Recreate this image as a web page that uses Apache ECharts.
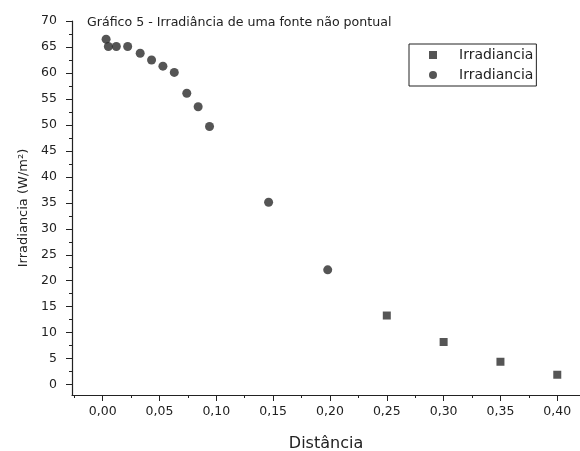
<!DOCTYPE html>
<html>
<head>
<meta charset="utf-8">
<script src="https://cdn.jsdelivr.net/npm/echarts@6/dist/echarts.min.js"></script>
<style>
  html, body { margin: 0; padding: 0; background: #fff; }
  #chart { width: 580px; height: 451px; }
</style>
</head>
<body>
<div id="chart"></div>
<script>
// dados
var circleX = [0.003, 0.005, 0.012, 0.022, 0.033, 0.043, 0.053, 0.063, 0.074, 0.084, 0.094, 0.146, 0.198];
var circleY = [66.5, 65.1, 65.1, 65.1, 63.8, 62.5, 61.3, 60.1, 56.1, 53.5, 49.7, 35.1, 22.1];
var squareX = [0.25, 0.30, 0.35, 0.40];
var squareY = [13.3, 8.2, 4.4, 1.9];

var xMajorTicks = [0, 0.05, 0.10, 0.15, 0.20, 0.25, 0.30, 0.35, 0.40];
var xMinorTicks = [-0.025, 0.025, 0.075, 0.125, 0.175, 0.225, 0.275, 0.325, 0.375];
var yMajorTicks = [0, 5, 10, 15, 20, 25, 30, 35, 40, 45, 50, 55, 60, 65, 70];
var yMinorTicks = [2.5, 7.5, 12.5, 17.5, 22.5, 27.5, 32.5, 37.5, 42.5, 47.5, 52.5, 57.5, 62.5, 67.5];

function renderGrafico5() {
    var dom = document.getElementById('chart');
    var myChart = echarts.init(dom);
    var option;

    var font = 'DejaVu Sans, Liberation Sans, sans-serif';
    var ink = '#222';
    var pts = function (xs, ys) {
        return xs.map(function (x, i) { return [x, ys[i]]; });
    };
    var xRange = { min: -0.027, max: 0.42 };
    var yRange = { min: -2, max: 70 };

    option = {
        backgroundColor: '#FFFFFF',
        animation: false,
        title: {
            text: 'Gráfico 5 - Irradiância de uma fonte não pontual',
            left: 82,
            top: 11,
            textStyle: { fontFamily: font, fontSize: 12.6, fontWeight: 'normal', color: ink }
        },
        legend: {
            orient: 'vertical',
            left: 409,
            top: 44,
            padding: [3, 3, 3, 20],
            itemWidth: 8,
            itemHeight: 8,
            itemGap: 4,
            borderColor: '#222',
            borderWidth: 1,
            data: [
                { name: 'Irradiancia', icon: 'rect' },
                { name: 'Irradiancia\u200B', icon: 'circle' }
            ],
            textStyle: { fontFamily: font, fontSize: 14, color: ink, lineHeight: 16, padding: [0, 0, 0, 17] }
        },
        grid: { left: 72, right: 0, top: 21, bottom: 56, containLabel: false, outerBoundsMode: 'none' },
        xAxis: [{
            type: 'value',
            min: xRange.min,
            max: xRange.max,
            name: 'Distância',
            nameLocation: 'middle',
            nameGap: 41,
            nameTextStyle: { fontFamily: font, fontSize: 16, color: ink },
            splitLine: { show: false },
            axisLine: { onZero: false, lineStyle: { color: ink, width: 1.2 } },
            axisTick: { customValues: xMajorTicks, length: 6, lineStyle: { color: ink } },
            axisLabel: {
                customValues: xMajorTicks,
                margin: 10,
                fontFamily: font, fontSize: 12.5, color: ink,
                formatter: function (v) { return v.toFixed(2).replace('.', ','); }
            }
        }, {
            type: 'value',
            min: xRange.min,
            max: xRange.max,
            position: 'bottom',
            splitLine: { show: false },
            axisLine: { show: false, onZero: false },
            axisTick: { customValues: xMinorTicks, length: 3, lineStyle: { color: ink } },
            axisLabel: { show: false }
        }],
        yAxis: [{
            type: 'value',
            min: yRange.min,
            max: yRange.max,
            name: 'Irradiancia (W/m²)',
            nameLocation: 'middle',
            nameGap: 42,
            nameTextStyle: { fontFamily: font, fontSize: 13, color: ink },
            splitLine: { show: false },
            axisLine: { onZero: false, lineStyle: { color: ink, width: 1.2 } },
            axisTick: { customValues: yMajorTicks, length: 6, lineStyle: { color: ink } },
            axisLabel: { customValues: yMajorTicks, margin: 15, fontFamily: font, fontSize: 12.5, color: ink }
        }, {
            type: 'value',
            min: yRange.min,
            max: yRange.max,
            position: 'left',
            splitLine: { show: false },
            axisLine: { show: false, onZero: false },
            axisTick: { customValues: yMinorTicks, length: 3, lineStyle: { color: ink } },
            axisLabel: { show: false }
        }],
        series: [{
            name: 'Irradiancia',
            type: 'scatter',
            symbol: 'rect',
            symbolSize: 8,
            itemStyle: { color: '#2b2b2b' },
            data: pts(squareX, squareY)
        }, {
            name: 'Irradiancia\u200B',
            type: 'scatter',
            symbol: 'circle',
            symbolSize: 9,
            itemStyle: { color: '#2b2b2b' },
            data: pts(circleX, circleY)
        }]
    };

    if (option && typeof option === 'object') {
        myChart.setOption(option);
    }
}
renderGrafico5();
</script>
</body>
</html>
